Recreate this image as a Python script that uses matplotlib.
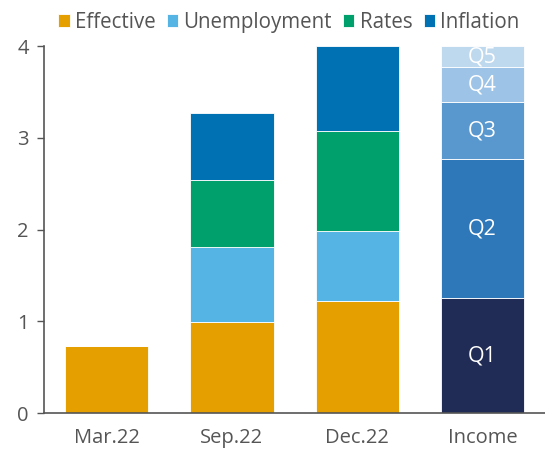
import numpy as np
import matplotlib.pyplot as plt

plt.rcParams['font.family'] = ['Open Sans', 'DejaVu Sans']

categories = ["Mar.22", "Sep.22", "Dec.22"]
effective = [0.73, 0.99, 1.22]
unemployment = [0.0, 0.82, 0.77]
rates = [0.0, 0.73, 1.09]
inflation = [0.0, 0.73, 0.92]

income_labels = ["Q1", "Q2", "Q3", "Q4", "Q5"]
income_values = [1.25, 1.52, 0.62, 0.38, 0.23]

driver_colors = ["#E5A000", "#56B4E5", "#00A06D", "#0072B4"]
income_colors = ["#202C55", "#2E77B8", "#5898CF", "#9DC3E6", "#BED8EE"]
grey = "#555555"

fig = plt.figure(figsize=(5.45, 4.53), dpi=100)
ax = fig.add_axes([0.081, 0.088, 0.919, 0.81])

x = np.arange(len(categories))
w = 0.664
bottom = np.zeros(len(categories))
names = ["Effective", "Unemployment", "Rates", "Inflation"]
for vals, c, n in zip([effective, unemployment, rates, inflation], driver_colors, names):
    ax.bar(x, vals, w, bottom=bottom, color=c, edgecolor="white", linewidth=0.6, label=n)
    bottom += np.array(vals)

# income quintile stack
b = 0.0
xi = len(categories)
for lab, v, c in zip(income_labels, income_values, income_colors):
    ax.bar(xi, v, w, bottom=b, color=c, edgecolor="white", linewidth=0.6)
    ax.text(xi, b + v / 2, lab, ha="center", va="center", color="white", fontsize=15.5)
    b += v

ax.set_xlim(-0.5, 3.5)
ax.set_ylim(0, 4)
ax.set_xticks(list(x) + [xi])
ax.set_xticklabels(categories + ["Income"])
ax.set_yticks([0, 1, 2, 3, 4])
ax.tick_params(axis="x", length=0, pad=11, labelsize=14.5, colors=grey)
ax.tick_params(axis="y", length=5, width=1, pad=6, labelsize=14.5, colors=grey)
for s in ["top", "right"]:
    ax.spines[s].set_visible(False)
for s in ["left", "bottom"]:
    ax.spines[s].set_color(grey)
    ax.spines[s].set_linewidth(1.2)

leg = fig.legend(loc="upper center", bbox_to_anchor=(0.53, 1.015), ncol=4, frameon=False,
                 fontsize=14.8, handlelength=0.55, handleheight=0.55, handletextpad=0.25,
                 columnspacing=0.55, labelcolor=grey)

fig.savefig("out.png", dpi=100)
